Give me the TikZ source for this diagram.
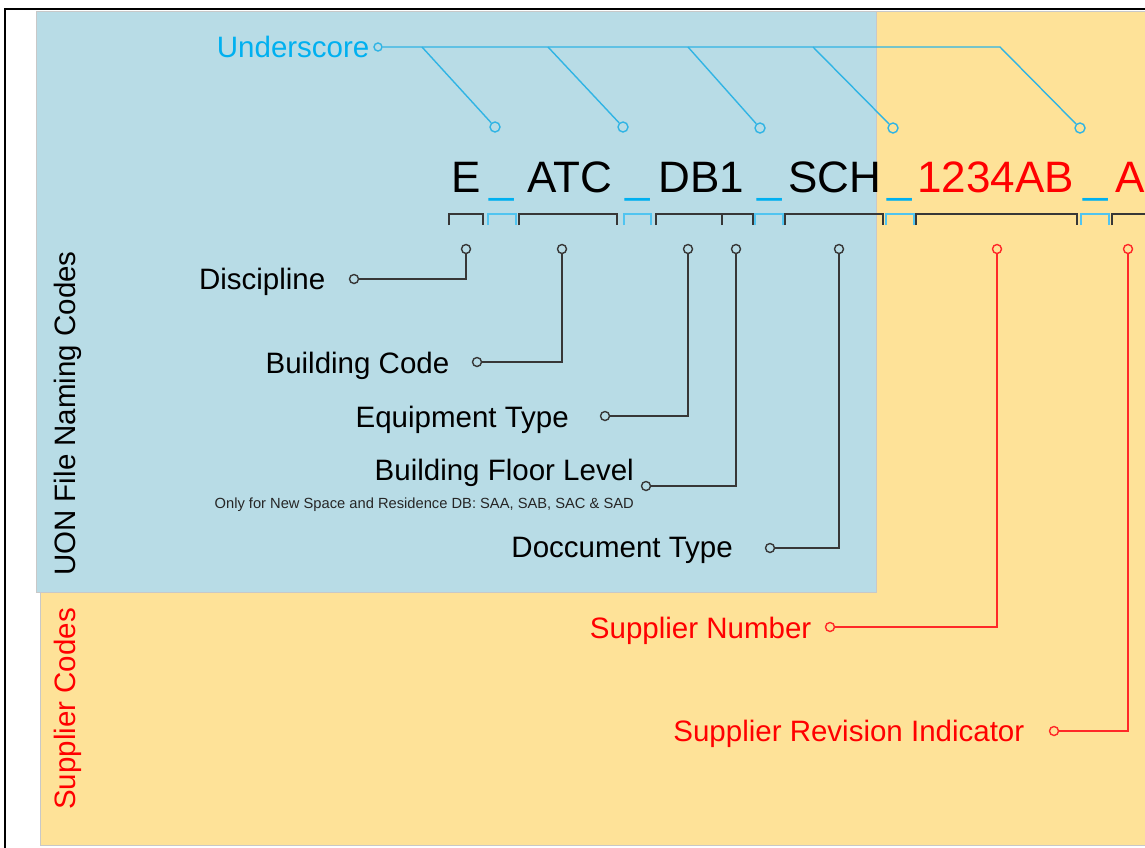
\documentclass[tikz,border=0pt]{standalone}
\usepackage{fontspec}
\setmainfont{Liberation Sans}
\definecolor{bluebg}{RGB}{184,220,230}
\definecolor{yellowbg}{RGB}{254,226,152}
\definecolor{cyantxt}{RGB}{0,176,240}
\definecolor{cyanline}{RGB}{48,180,228}
\definecolor{cyanbr}{RGB}{80,196,240}
\definecolor{darkln}{RGB}{55,55,55}
\definecolor{redtxt}{RGB}{255,0,0}
\definecolor{redln}{RGB}{255,40,40}
\definecolor{edgegrey}{RGB}{200,200,200}
\tikzset{
  lbl/.style={font=\fontsize{29.5}{32}\selectfont, inner sep=0pt, text=black},
  smalltxt/.style={font=\fontsize{14.7}{16}\selectfont, inner sep=0pt, text=black!85},
  codetxt/.style={font=\fontsize{44}{48}\selectfont, inner sep=0pt, anchor=base west, text=black},
  pin/.style={circle, draw=darkln, line width=1.4pt, minimum size=9pt, inner sep=0pt},
  upin/.style={circle, draw=cyanline, line width=1.4pt, minimum size=10pt, inner sep=0pt},
  rpin/.style={circle, draw=redln, line width=1.4pt, minimum size=9pt, inner sep=0pt},
  dk/.style={draw=darkln, line width=1.8pt},
  cl/.style={draw=cyanline, line width=1.4pt},
  rl/.style={draw=redln, line width=1.8pt},
  brk/.style={draw=darkln, line width=2pt},
  ubrk/.style={draw=cyanbr, line width=2pt}
}
\begin{document}
\begin{tikzpicture}[x=1pt,y=-1pt]
\useasboundingbox (0,0) rectangle (1145,847);
\clip (0,0) rectangle (1145,847);
\fill[white] (0,0) rectangle (1145,847);
% panels
\path[fill=yellowbg, draw=edgegrey, line width=1pt] (40,11) rectangle (1160,845);
\path[fill=bluebg, draw=edgegrey, line width=1pt] (36,11) rectangle (876,592);
\draw[black, line width=1.5pt] (5,9) rectangle (1160,860);

% side labels
\node[lbl, rotate=90, anchor=base west] (uon) at (75,576) {UON File Naming Codes};
\node[lbl, rotate=90, anchor=base west, text=redtxt] (sup) at (75,810) {Supplier Codes};

% underscore label and connectors
\node[lbl, anchor=base west, text=cyantxt] (us) at (216.7,57) {Underscore};
\node[upin, minimum size=8pt] (usc) at (378,47) {};
\coordinate (ub1) at (422,47);
\coordinate (ub2) at (548,47);
\coordinate (ub3) at (688,47);
\coordinate (ub4) at (813,47);
\coordinate (ub5) at (1000,47);
\node[upin] (ut1) at (495,127) {};
\node[upin] (ut2) at (623,127) {};
\node[upin] (ut3) at (760,128) {};
\node[upin] (ut4) at (893,128) {};
\node[upin] (ut5) at (1080,128) {};
\draw[cl] (usc) -- (ub5) -- (ut5);
\draw[cl] (ub1) -- (ut1);
\draw[cl] (ub2) -- (ut2);
\draw[cl] (ub3) -- (ut3);
\draw[cl] (ub4) -- (ut4);

% code string
\node[codetxt] (cE) at (451.5,192) {E};
\node[codetxt, text=cyantxt] (u1) at (489,192) {\_};
\node[codetxt] (cATC) at (527,192) {ATC};
\node[codetxt, text=cyantxt] (u2) at (625,192) {\_};
\node[codetxt] (cDB) at (658.6,192) {DB1};
\node[codetxt, text=cyantxt] (u3) at (757,192) {\_};
\node[codetxt] (cSCH) at (788,192) {SCH};
\node[codetxt, text=cyantxt] (u4) at (887,192) {\_};
\node[codetxt, text=redtxt] (cNum) at (917,192) {1234AB};
\node[codetxt, text=cyantxt] (u5) at (1083,192) {\_};
\node[codetxt, text=redtxt] (cRev) at (1115,192) {A};

% brackets
\draw[brk] (449,225) -- (449,214) -- (483,214) -- (483,225);
\draw[brk] (519,225) -- (519,214) -- (617,214) -- (617,225);
\draw[brk] (656,225) -- (656,214) -- (722,214) -- (722,225);
\draw[brk] (722,225) -- (722,214) -- (753,214) -- (753,225);
\draw[brk] (785,225) -- (785,214) -- (883,214) -- (883,225);
\draw[brk] (916,225) -- (916,214) -- (1077,214) -- (1077,225);
\draw[brk] (1112,225) -- (1112,214) -- (1170,214);
\draw[ubrk] (488,225) -- (488,214) -- (516,214) -- (516,225);
\draw[ubrk] (624,225) -- (624,214) -- (651,214) -- (651,225);
\draw[ubrk] (755,225) -- (755,214) -- (783,214) -- (783,225);
\draw[ubrk] (886,225) -- (886,214) -- (914,214) -- (914,225);
\draw[ubrk] (1081,225) -- (1081,214) -- (1109,214) -- (1109,225);

% pins under brackets
\node[pin] (pE) at (466,249) {};
\node[pin] (pB) at (562,249) {};
\node[pin] (pQ) at (688,249) {};
\node[pin] (pF) at (736,249) {};
\node[pin] (pD) at (839,249) {};
\node[rpin] (pS) at (997,249) {};
\node[rpin] (pR) at (1128,249) {};

% labels
\node[lbl, anchor=base east] (tE) at (325.5,289) {Discipline};
\node[lbl, anchor=base east] (tB) at (449.5,373) {Building Code};
\node[lbl, anchor=base east] (tQ) at (569,427) {Equipment Type};
\node[lbl, anchor=base east] (tF) at (634,480) {Building Floor Level};
\node[smalltxt, anchor=base east] (tFs) at (634,508) {Only for New Space and Residence DB: SAA, SAB, SAC \& SAD};
\node[lbl, anchor=base east] (tD) at (733,557) {Doccument Type};
\node[lbl, anchor=base east, text=redtxt] (tS) at (811.5,638) {Supplier Number};
\node[lbl, anchor=base east, text=redtxt] (tR) at (1024.5,741) {Supplier Revision Indicator};

% label pins
\node[pin] (lE) at (354,279) {};
\node[pin] (lB) at (477,362) {};
\node[pin] (lQ) at (605,416) {};
\node[pin] (lF) at (646,486) {};
\node[pin] (lD) at (770,548) {};
\node[rpin] (lS) at (830,627) {};
\node[rpin] (lR) at (1054,731) {};

% connectors
\draw[dk] (pE) |- (lE);
\draw[dk] (pB) |- (lB);
\draw[dk] (pQ) |- (lQ);
\draw[dk] (pF) |- (lF);
\draw[dk] (pD) |- (lD);
\draw[rl] (pS) |- (lS);
\draw[rl] (pR) |- (lR);
\end{tikzpicture}
\end{document}
